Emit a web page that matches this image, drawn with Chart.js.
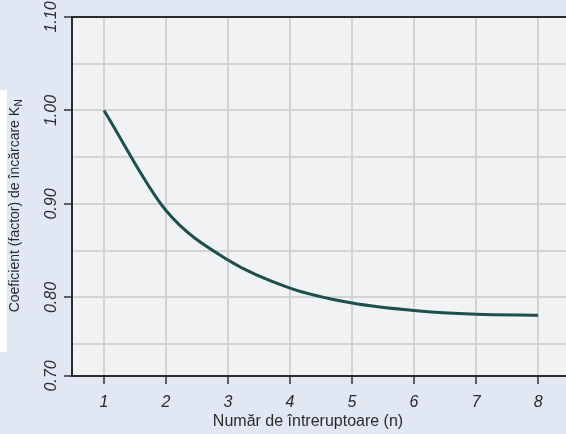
<!DOCTYPE html>
<html>
<head>
<meta charset="utf-8">
<script src="https://cdn.jsdelivr.net/npm/chart.js@4/dist/chart.umd.min.js"></script>
<style>
  html, body { margin: 0; padding: 0; background: #e1e8f4; }
  canvas { display: block; }
</style>
</head>
<body>
<canvas id="factor-chart" width="566" height="434"></canvas>
<script>
// number of switches n and the load factor K_N
const switchCounts = [1, 2, 3, 4, 5, 6, 7, 8];
const loadFactor = [1.000, 0.893, 0.840, 0.810, 0.794, 0.786, 0.782, 0.781];

// axis range (the value axis is cut just above 0.70)
const xMin = 0.484, xMax = 8.45;
const yMin = 0.716, yMax = 1.10;
const yGridValues = [yMin, 0.75, 0.80, 0.85, 0.90, 0.95, 1.00, 1.05, 1.10];
const yTickValues = [0.70, 0.80, 0.90, 1.00, 1.10];
const yTickLabels = ["0.70", "0.80", "0.90", "1.00", "1.10"];

const xTitle = "Număr de întreruptoare (n)";
const yTitle = "Coeficient (factor) de încărcare K";
const yTitleSub = "N";

const FONT = "'Liberation Sans', Arial, Helvetica, sans-serif";

function majorIndex(v) {
  return yTickValues.findIndex(t => Math.abs(t - v) < 0.02);
}

const decor = {
  id: "decor",
  beforeDraw(chart) {
    const {ctx, width, height, chartArea: a} = chart;
    ctx.save();
    ctx.fillStyle = "#e1e8f4";
    ctx.fillRect(0, 0, width, height);
    ctx.fillStyle = "#ffffff";
    ctx.fillRect(0, 90, 7, 262);
    ctx.fillStyle = "#f1f2f4";
    ctx.fillRect(a.left, a.top, a.right - a.left, a.bottom - a.top);
    ctx.restore();
  },
  afterDraw(chart) {
    const ctx = chart.ctx;
    ctx.save();
    ctx.fillStyle = "#2a2a2a";
    ctx.textBaseline = "middle";

    // x title
    ctx.font = "16px " + FONT;
    ctx.textAlign = "center";
    ctx.fillText(xTitle, 308, 422);

    // y title with subscript
    ctx.translate(15, 206);
    ctx.rotate(-Math.PI / 2);
    ctx.textAlign = "left";
    ctx.font = "14px " + FONT;
    const w1 = ctx.measureText(yTitle).width;
    ctx.font = "10px " + FONT;
    const w2 = ctx.measureText(yTitleSub).width;
    const start = -(w1 + w2) / 2;
    ctx.font = "14px " + FONT;
    ctx.fillText(yTitle, start, 0);
    ctx.font = "10px " + FONT;
    ctx.fillText(yTitleSub, start + w1 + 0.5, 4);
    ctx.restore();
  }
};

const ctx = document.getElementById("factor-chart").getContext("2d");

new Chart(ctx, {
  type: "line",
  data: {
    datasets: [{
      data: switchCounts.map((n, i) => ({x: n, y: loadFactor[i]})),
      borderColor: "#1c4f4d",
      borderWidth: 3,
      pointRadius: 0,
      fill: false,
      cubicInterpolationMode: "monotone"
    }]
  },
  options: {
    responsive: false,
    devicePixelRatio: 1,
    animation: false,
    layout: {
      padding: {top: 17, left: 0, right: 0, bottom: 0}
    },
    plugins: {
      legend: {display: false},
      tooltip: {enabled: false}
    },
    scales: {
      x: {
        type: "linear",
        min: xMin,
        max: xMax,
        afterBuildTicks: scale => {
          scale.ticks = switchCounts.map(v => ({value: v}));
        },
        afterFit: scale => { scale.height = 58; },
        grid: {
          color: "#d3d3d3",
          lineWidth: 2,
          tickLength: 8,
          tickWidth: 1.5,
          tickColor: "#333333"
        },
        border: {color: "#2b2b2b", width: 2},
        ticks: {
          autoSkip: false,
          maxRotation: 0,
          padding: 9,
          color: "#2a2a2a",
          font: {family: FONT, size: 16, style: "italic"},
          callback: v => String(v)
        }
      },
      y: {
        type: "linear",
        min: yMin,
        max: yMax,
        afterBuildTicks: scale => {
          scale.ticks = yGridValues.map(v => ({value: v}));
        },
        afterFit: scale => { scale.width = 72; },
        grid: {
          color: c => (c.tick && Math.abs(c.tick.value - yMax) < 1e-6) ? "#2b2b2b" : "#d3d3d3",
          lineWidth: 2,
          tickLength: 8,
          tickWidth: 1.5,
          tickColor: c => (c.tick && majorIndex(c.tick.value) >= 0) ? "#333333" : "rgba(0,0,0,0)"
        },
        border: {color: "#2b2b2b", width: 2},
        ticks: {
          autoSkip: false,
          minRotation: 90,
          maxRotation: 90,
          crossAlign: "center",
          padding: -3,
          color: "#2a2a2a",
          font: {family: FONT, size: 16, style: "italic"},
          callback: v => {
            const k = majorIndex(v);
            return k >= 0 ? yTickLabels[k] : "";
          }
        }
      }
    }
  },
  plugins: [decor]
});
</script>
</body>
</html>
